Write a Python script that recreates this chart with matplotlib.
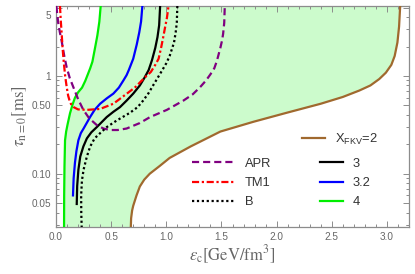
import numpy as np
import matplotlib
matplotlib.use("Agg")
import matplotlib.pyplot as plt
from matplotlib.ticker import FixedLocator, NullFormatter
from matplotlib.lines import Line2D
from matplotlib.font_manager import FontProperties
import matplotlib.transforms as mtransforms

plt.rcParams['font.family'] = ['Liberation Sans', 'DejaVu Sans']
plt.rcParams['mathtext.fontset'] = 'stix'
plt.rcParams['mathtext.rm'] = 'Liberation Sans'
plt.rcParams['mathtext.it'] = 'Liberation Sans:italic'
plt.rcParams['mathtext.bf'] = 'Liberation Sans:bold'

# ---- data (eps_c [GeV/fm^3], tau [ms]) ----
x4_eps = [0.073, 0.074, 0.077, 0.082, 0.092, 0.105, 0.127, 0.15, 0.172, 0.20, 0.236, 0.265, 0.29, 0.31, 0.33, 0.354, 0.375, 0.393, 0.405]
x4_tau = [0.028, 0.06, 0.12, 0.22, 0.27, 0.32, 0.415, 0.51, 0.60, 0.68, 0.76, 0.89, 1.05, 1.2, 1.4, 1.94, 2.6, 3.6, 5.2]

x32_eps = [0.154, 0.16, 0.172, 0.185, 0.203, 0.225, 0.25, 0.309, 0.35, 0.40, 0.46, 0.52, 0.57, 0.611, 0.64, 0.66, 0.70, 0.732, 0.755, 0.771, 0.783]
x32_tau = [0.06, 0.09, 0.13, 0.17, 0.22, 0.26, 0.29, 0.38, 0.45, 0.52, 0.59, 0.66, 0.76, 0.90, 1.02, 1.15, 1.5, 2.1, 2.8, 3.6, 5.2]

x3_eps = [0.188, 0.192, 0.203, 0.22, 0.248, 0.28, 0.32, 0.37, 0.46, 0.52, 0.58, 0.64, 0.70, 0.76, 0.80, 0.84, 0.87, 0.90, 0.92, 0.935, 0.944]
x3_tau = [0.049, 0.075, 0.11, 0.15, 0.19, 0.23, 0.265, 0.30, 0.38, 0.43, 0.48, 0.56, 0.66, 0.80, 0.95, 1.15, 1.45, 1.94, 2.5, 3.3, 5.2]

x2_eps = [0.678, 0.681, 0.69, 0.70, 0.73, 0.76, 0.80, 0.85, 0.94, 1.03, 1.22, 1.49, 1.79, 2.09, 2.4, 2.6, 2.75, 2.85, 2.93, 2.99, 3.04, 3.07, 3.095, 3.11, 3.12]
x2_tau = [0.028, 0.035, 0.042, 0.047, 0.06, 0.074, 0.087, 0.10, 0.12, 0.145, 0.19, 0.27, 0.34, 0.42, 0.52, 0.61, 0.71, 0.80, 0.93, 1.08, 1.3, 1.6, 2.2, 3.2, 5.2]

b_eps = [0.233, 0.229, 0.228, 0.235, 0.25, 0.28, 0.31, 0.35, 0.40, 0.46, 0.55, 0.67, 0.74, 0.79, 0.84, 0.88, 0.92, 0.96, 1.00, 1.03, 1.07, 1.085, 1.095, 1.10]
b_tau = [0.028, 0.04, 0.06, 0.085, 0.11, 0.15, 0.19, 0.23, 0.26, 0.30, 0.35, 0.42, 0.48, 0.56, 0.67, 0.80, 0.95, 1.13, 1.35, 1.6, 2.2, 2.8, 3.5, 5.2]

tm1_eps = [0.036, 0.044, 0.052, 0.06, 0.07, 0.083, 0.097, 0.11, 0.127, 0.143, 0.16, 0.20, 0.28, 0.40, 0.52, 0.65, 0.72, 0.77, 0.82, 0.86, 0.90, 0.93, 0.955, 0.975, 0.99, 1.005, 1.02]
tm1_tau = [5.2, 3.6, 2.65, 1.9, 1.4, 1.0, 0.77, 0.63, 0.54, 0.50, 0.48, 0.455, 0.45, 0.46, 0.52, 0.67, 0.77, 0.88, 1.0, 1.1, 1.3, 1.5, 2.0, 2.6, 3.2, 3.9, 5.2]

apr_eps = [0.003, 0.02, 0.035, 0.052, 0.075, 0.097, 0.125, 0.157, 0.20, 0.248, 0.30, 0.369, 0.43, 0.49, 0.56, 0.64, 0.76, 0.853,
           1.005, 1.155, 1.24, 1.307, 1.36, 1.40, 1.435, 1.458, 1.49, 1.505, 1.515, 1.525, 1.53]
apr_tau = [5.2, 3.5, 2.8, 2.25, 1.6, 1.22, 0.95, 0.77, 0.58, 0.45, 0.37, 0.315, 0.29, 0.28, 0.28, 0.29, 0.33, 0.38,
           0.45, 0.56, 0.65, 0.77, 0.9, 1.04, 1.2, 1.42, 1.94, 2.3, 2.7, 3.5, 5.2]

x_ticks = [0.0, 0.5, 1.0, 1.5, 2.0, 2.5, 3.0]
x_ticklabels = ["0.0", "0.5", "1.0", "1.5", "2.0", "2.5", "3.0"]
y_ticks = [0.05, 0.10, 0.50, 1, 5]
y_ticklabels = ["0.05", "0.10", "0.50", "1", "5"]

# ---- figure ----
fig = plt.figure(figsize=(4.15, 2.74), dpi=100)
ax = fig.add_axes([56/415, 1-227/274, (409-56)/415, (227-6)/274])

fill_x = x4_eps + x2_eps[::-1]
fill_y = x4_tau + x2_tau[::-1]
ax.fill(fill_x, fill_y, color='#ccfbcc', lw=0, zorder=1)

lw = 1.6
c_brown = '#a0692e'
c_green = '#00ee00'
c_purple = '#800080'
ls_apr = (0, (3.2, 1.8))
ls_tm1 = (0, (3.2, 1.2, 1.0, 1.2))
ls_b = (0, (1.0, 1.2))
ax.plot(x2_eps, x2_tau, color=c_brown, lw=lw, zorder=3, solid_joinstyle='round')
ax.plot(x4_eps, x4_tau, color=c_green, lw=lw, zorder=3, solid_joinstyle='round')
ax.plot(x32_eps, x32_tau, color='#0000ff', lw=lw, zorder=3, solid_joinstyle='round')
ax.plot(x3_eps, x3_tau, color='black', lw=lw, zorder=3, solid_joinstyle='round')
ax.plot(apr_eps, apr_tau, color=c_purple, lw=lw, ls=ls_apr, zorder=3)
ax.plot(tm1_eps, tm1_tau, color='#ff0000', lw=lw, ls=ls_tm1, zorder=3)
ax.plot(b_eps, b_tau, color='black', lw=lw, ls=ls_b, zorder=3)

ax.set_yscale('log')
ax.set_xlim(0, 3.2)
ax.set_ylim(0.0285, 5.2)

gray = '#8c8c8c'
for s in ax.spines.values():
    s.set_color(gray)
    s.set_linewidth(0.9)

ax.xaxis.set_major_locator(FixedLocator(x_ticks))
ax.set_xticklabels(x_ticklabels)
ax.xaxis.set_minor_locator(FixedLocator(np.arange(0, 3.21, 0.1)))
ax.yaxis.set_major_locator(FixedLocator(y_ticks))
ax.set_yticklabels(y_ticklabels)
ym = [v * m for m in (0.01, 0.1, 1) for v in range(2, 10)] + [0.03]
ax.yaxis.set_minor_locator(FixedLocator(ym))
ax.yaxis.set_minor_formatter(NullFormatter())

ax.tick_params(which='both', direction='in', top=True, right=True, color=gray,
               labelcolor='#666666', labelsize=7.2, width=0.7)
ax.tick_params(which='major', length=4, pad=3.5)
ax.tick_params(which='minor', length=2)

# top label "5" sits a little lower in the reference
lab5 = ax.get_yticklabels()[-1]
lab5.set_transform(lab5.get_transform() + mtransforms.ScaledTranslation(0, -7/100, fig.dpi_scale_trans))

ax.set_xlabel(r'$\epsilon_{\mathrm{c}}[\mathrm{GeV/fm^3}]$', fontsize=12, color='#666666', labelpad=1)
ax.set_ylabel(r'$\tau_{\mathrm{n=0}}[\mathrm{ms}]$', fontsize=12, color='#666666', labelpad=2)

# ---- legends ----
fs = 9.3
tc = '#333333'
h1 = [Line2D([], [], color=c_purple, lw=lw, ls=ls_apr),
      Line2D([], [], color='#ff0000', lw=lw, ls=ls_tm1),
      Line2D([], [], color='black', lw=lw, ls=ls_b)]
leg1 = ax.legend(h1, ['APR', 'TM1', 'B'], loc='center left',
                 bbox_to_anchor=(192/415, 1-183/274), bbox_transform=fig.transFigure,
                 frameon=False, fontsize=fs, handlelength=3.3, handletextpad=0.8,
                 labelspacing=0.55, borderpad=0, borderaxespad=0, labelcolor=tc)
ax.add_artist(leg1)
h2 = [Line2D([], [], color='black', lw=lw),
      Line2D([], [], color='#0000ff', lw=lw),
      Line2D([], [], color=c_green, lw=lw)]
leg2 = ax.legend(h2, ['3', '3.2', '4'], loc='center left',
                 bbox_to_anchor=(320/415, 1-183/274), bbox_transform=fig.transFigure,
                 frameon=False, fontsize=fs, handlelength=1.75, handletextpad=0.8,
                 labelspacing=0.55, borderpad=0, borderaxespad=0, labelcolor=tc)
ax.add_artist(leg2)
h3 = [Line2D([], [], color=c_brown, lw=lw)]
prop3 = FontProperties(family=['Liberation Sans', 'DejaVu Sans'], size=fs, math_fontfamily='custom')
leg3 = ax.legend(h3, [r'X$_{\mathrm{FKV}}$=2'], loc='center left',
                 bbox_to_anchor=(302/415, 1-139/274), bbox_transform=fig.transFigure,
                 frameon=False, prop=prop3, handlelength=1.75, handletextpad=0.8,
                 borderpad=0, borderaxespad=0, labelcolor=tc)

fig.savefig('out.png', dpi=100)
